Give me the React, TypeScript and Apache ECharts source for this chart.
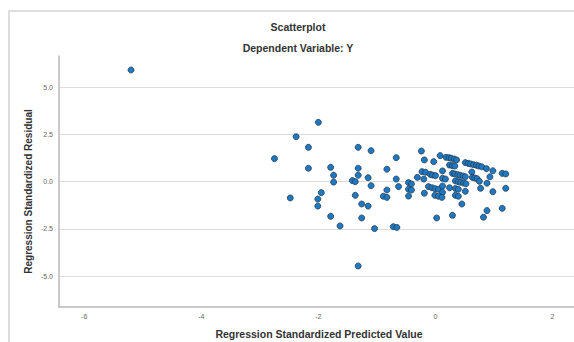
import React, { useEffect, useRef } from "react";
import * as echarts from "echarts";

const titleText = "Scatterplot";
const subtitleText = "Dependent Variable: Y";
const xAxisTitle = "Regression Standardized Predicted Value";
const yAxisTitle = "Regression Standardized Residual";

const xTicks = [-6, -4, -2, 0, 2];
const yTicks = [-5, -2.5, 0, 2.5, 5];

const predicted = [
  -5.2, -2.75, -2.48, -2.38, -2.17, -2.17, -2.0, -2.01, -2.01, -1.95,
  -1.79, -1.74, -1.74, -1.79, -1.63, -1.42, -1.37, -1.37, -1.32, -1.32,
  -1.32, -1.32, -1.26, -1.26, -1.15, -1.15, -1.1, -1.1, -1.04, -0.83,
  -0.83, -0.89, -0.83, -0.72, -0.66, -0.67, -0.67, -0.63, -0.24, -0.19,
  -0.03, 0.08,
  0.18, 0.23, 0.27, 0.32, 0.36,
  0.24, 0.29, 0.33,
  0.51, 0.56, 0.6, 0.65, 0.7, 0.74, 0.79,
  0.87, 0.98, 1.14, 1.2,
  -0.23, -0.17, -0.31, -0.2,
  -0.09, -0.05, 0.0,
  0.12, 0.12, 0.17,
  0.29, 0.33, 0.38, 0.42, 0.47, 0.51,
  0.62,
  0.34, 0.39, 0.43, 0.48, 0.52,
  0.63, 0.67, 0.71,
  0.75, 0.93, 0.88,
  -0.46, -0.41, -0.46, -0.41, -0.46,
  -0.12, -0.06, -0.01, 0.05,
  0.12, 0.24, 0.12, -0.19,
  -0.01, 0.05, 0.11,
  0.34, 0.39, 0.34, 0.39,
  0.51, 0.77, 0.98, 1.2,
  0.45, 0.88, 1.14, 0.82, 0.29, 0.02,
];

const residual = [
  5.91, 1.22, -0.86, 2.38, 1.82, 0.71, 3.14, -0.92, -1.29, -0.58,
  0.76, 0.34, -0.02, -1.83, -2.34, 0.06, 0.0, -0.72, 1.82, 0.71,
  0.34, -4.46, -1.18, -1.92, 0.21, -1.29, 1.64, -0.21, -2.48, 0.66,
  -0.44, -0.77, -0.83, -2.38, -2.42, 1.27, 0.14, -0.26, 1.62, 1.15,
  1.06, 1.38,
  1.29, 1.27, 1.24, 1.2, 1.15,
  0.88, 0.85, 0.83,
  1.01, 0.97, 0.94, 0.9, 0.87, 0.83, 0.79,
  0.69, 0.58, 0.44, 0.41,
  0.53, 0.5, 0.23, 0.14,
  0.39, 0.35, 0.32,
  0.57, 0.18, 0.14,
  0.44, 0.41, 0.37, 0.34, 0.3, 0.26,
  0.51,
  0.04, 0.0, -0.03, -0.07, -0.11,
  0.23, 0.2, 0.16,
  0.02, 0.26, -0.08,
  -0.05, -0.12, -0.4, -0.44, -0.76,
  -0.26, -0.32, -0.37, -0.4,
  -0.23, -0.32, -0.56, -0.61,
  -0.72, -0.77, -0.83,
  -0.36, -0.4, -0.72, -0.77,
  -0.51, -0.35, -0.53, -0.35,
  -1.18, -1.53, -1.41, -1.88, -1.78, -1.92,
];

const FONT = "'Liberation Sans', Arial, sans-serif";

export default function App() {
  const ref = useRef<HTMLDivElement>(null);

  useEffect(() => {
    if (!ref.current) return;
    const chart = echarts.init(ref.current, null, { renderer: "svg" });
    const points = predicted.map((x, i) => [x, residual[i]]);
    chart.setOption({
      animation: false,
      backgroundColor: "#ffffff",
      grid: { left: 59, right: 0, top: 56, bottom: 35, containLabel: false },
      xAxis: {
        type: "value",
        min: -6.43,
        max: 2.366,
        axisLine: { show: true, onZero: false, lineStyle: { color: "#b8b8b8", width: 1.5 } },
        axisTick: { show: false, customValues: xTicks },
        splitLine: { show: false },
        axisLabel: {
          customValues: xTicks,
          color: "#666",
          fontSize: 7,
          fontFamily: FONT,
          margin: 6,
          formatter: (v: number) => String(v),
        },
      },
      yAxis: {
        type: "value",
        min: -6.63,
        max: 6.65,
        axisLine: { show: true, onZero: false, lineStyle: { color: "#b8b8b8", width: 1.5 } },
        axisTick: { show: false, customValues: yTicks },
        splitLine: { show: true, lineStyle: { color: "#dcdcdc", width: 1.2 } },
        axisLabel: {
          customValues: yTicks,
          color: "#666",
          fontSize: 7,
          fontFamily: FONT,
          margin: 6,
          formatter: (v: number) => v.toFixed(1),
        },
      },
      series: [
        {
          type: "scatter",
          data: points,
          symbol: "circle",
          symbolSize: 6,
          itemStyle: {
            color: "#1f78c2",
            borderColor: "#233c52",
            borderWidth: 0.8,
            opacity: 1,
          },
        },
      ],
      graphic: [
        {
          type: "polyline",
          silent: true,
          z: -10,
          shape: { points: [[9, 342], [9, 11], [574, 11]] },
          style: { fill: "none", stroke: "#d2d2d2", lineWidth: 1.5 },
        },
        {
          type: "text",
          x: 298,
          y: 27,
          style: {
            text: titleText,
            textAlign: "center",
            textVerticalAlign: "middle",
            font: `bold 10.5px ${FONT}`,
            fill: "#333",
          },
        },
        {
          type: "text",
          x: 298,
          y: 47.5,
          style: {
            text: subtitleText,
            textAlign: "center",
            textVerticalAlign: "middle",
            font: `bold 10.5px ${FONT}`,
            fill: "#333",
          },
        },
        {
          type: "text",
          x: 319,
          y: 334,
          style: {
            text: xAxisTitle,
            textAlign: "center",
            textVerticalAlign: "middle",
            font: `bold 10.5px ${FONT}`,
            fill: "#333",
          },
        },
        {
          type: "text",
          x: 28,
          y: 191.5,
          rotation: Math.PI / 2,
          style: {
            text: yAxisTitle,
            textAlign: "center",
            textVerticalAlign: "middle",
            font: `bold 10px ${FONT}`,
            fill: "#333",
          },
        },
      ],
    });
    return () => chart.dispose();
  }, []);

  return (
    <div
      ref={ref}
      style={{ position: "fixed", left: 0, top: 0, width: 574, height: 342 }}
    />
  );
}
